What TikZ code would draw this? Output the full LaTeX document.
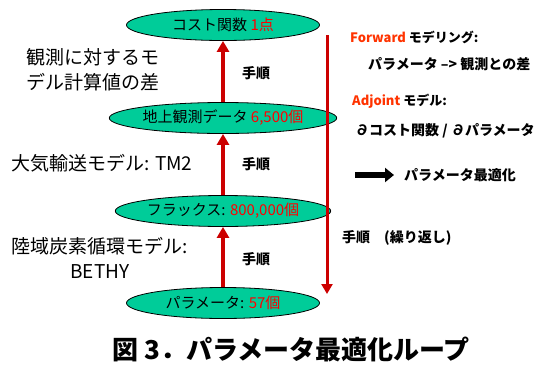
\documentclass[tikz,border=0pt]{standalone}
\usepackage{fontspec}
\setmainfont{Noto Sans CJK JP}
\usetikzlibrary{shapes.geometric,arrows.meta}
\definecolor{ellgreen}{HTML}{00CC99}
\definecolor{arrred}{HTML}{CC0000}
\definecolor{txtred}{HTML}{FF0000}
\definecolor{fwdred}{HTML}{FF3300}
\begin{document}
\begin{tikzpicture}[x=1pt,y=-1pt,
  ell/.style={ellipse,draw=black,line width=0.8pt,fill=ellgreen,minimum width=193pt,minimum height=31pt,inner sep=0pt,font=\fontsize{15pt}{17pt}\selectfont},
  uparr/.style={draw=arrred,line width=4pt,-{Triangle[length=11pt,width=12pt]}},
  lbl/.style={font=\fontsize{19pt}{25pt}\selectfont,inner sep=0pt},
  steplbl/.style={font=\bfseries\fontsize{14pt}{16pt}\selectfont,inner sep=0pt},
  rtxt/.style={font=\bfseries\fontsize{14pt}{16pt}\selectfont,inner sep=0pt,anchor=west}]
\useasboundingbox (0,0) rectangle (547,365);
\node[ell] (e1) at (223,25) {コスト関数 \textcolor{txtred}{1点}};
\node[ell] (e2) at (223,118) {地上観測データ \textcolor{txtred}{6,500個}};
\node[ell] (e3) at (223,211) {フラックス: \textcolor{txtred}{800,000個}};
\node[ell] (e4) at (223,303) {パラメータ: \textcolor{txtred}{57個}};
\draw[uparr] (e2.north) -- (e1.south);
\draw[uparr] (e3.north) -- (e2.south);
\draw[uparr] (e4.north) -- (e3.south);
\node[steplbl] (s1) at (256,73) {手順};
\node[steplbl] (s2) at (256,164) {手順};
\node[steplbl] (s3) at (256,259) {手順};
\node[lbl,align=left,anchor=west] (l1) at (26,70) {観測に対するモ\\デル計算値の差};
\node[lbl,anchor=west] (l2) at (11,163) {大気輸送モデル: TM2};
\node[lbl,align=center] (l3) at (100,258) {陸域炭素循環モデル:\\BETHY};
\coordinate (rtop) at (327,35);
\coordinate (rbot) at (327,294);
\draw[draw=arrred,line width=3pt,-{Triangle[length=10pt,width=11pt]}] (rtop) -- (rbot);
\node[rtxt,font=\bfseries\fontsize{13pt}{15pt}\selectfont] (r1) at (350,37) {\textcolor{fwdred}{Forward} モデリング:};
\node[rtxt] (r2) at (368,64) {パラメータ –> 観測との差};
\node[rtxt,font=\bfseries\fontsize{13pt}{15pt}\selectfont] (r3) at (352,101) {\textcolor{fwdred}{Adjoint} モデル:};
\node[rtxt] (r4) at (355,131) {∂コスト関数 / ∂パラメータ};
\coordinate (ba) at (355,175);
\coordinate (bb) at (394,175);
\node[rtxt] (r5) at (404,175) {パラメータ最適化};
\draw[line width=6pt,-{Triangle[length=9pt,width=14pt]}] (ba) -- (bb);
\node[rtxt] (r6) at (342,238) {手順　(繰り返し)};
\node[font=\bfseries\fontsize{26pt}{29pt}\selectfont,inner sep=0pt] (cap) at (291,349) {図 3．パラメータ最適化ループ};
\end{tikzpicture}
\end{document}
